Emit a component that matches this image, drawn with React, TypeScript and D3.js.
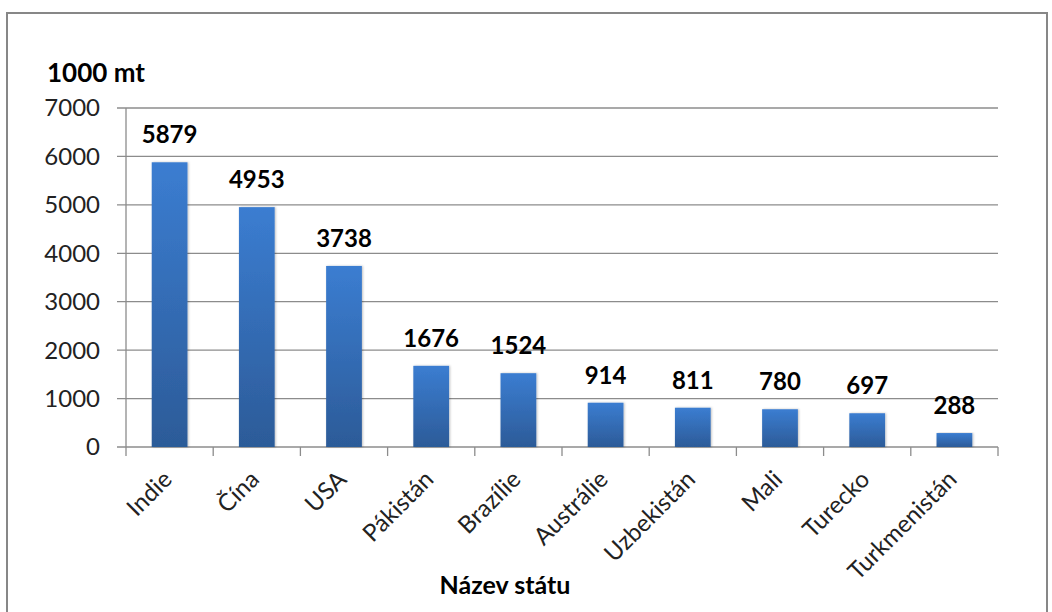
import React from "react";
import * as d3 from "d3";

const countries = ["Indie", "Čína", "USA", "Pákistán", "Brazílie", "Austrálie", "Uzbekistán", "Mali", "Turecko", "Turkmenistán"];
const production = [5879, 4953, 3738, 1676, 1524, 914, 811, 780, 697, 288];
const yTicks = [0, 1000, 2000, 3000, 4000, 5000, 6000, 7000];

const FONT = "Lato, 'Open Sans', sans-serif";

export default function App() {
  const left = 126, right = 998, top = 108, bottom = 447;

  const x = d3.scaleBand<string>()
    .domain(countries)
    .range([left, right])
    .paddingInner(0.59)
    .paddingOuter(0.295);

  const y = d3.scaleLinear()
    .domain([0, 7000])
    .range([bottom, top]);

  const step = (right - left) / countries.length;

  return (
    <svg width={1052} height={612} style={{ position: "absolute", left: 0, top: 0 }} fontFamily={FONT}>
      <defs>
        <linearGradient id="barGrad" x1="0" y1="0" x2="0" y2="1">
          <stop offset="0%" stopColor="#3b7dd1" />
          <stop offset="100%" stopColor="#2c5b98" />
        </linearGradient>
        <filter id="shadow" x="-20%" y="-5%" width="140%" height="110%">
          <feDropShadow dx="1" dy="0" stdDeviation="1.2" floodColor="#000" floodOpacity="0.25" />
        </filter>
      </defs>
      <rect x={7} y={13} width={1040} height={620} fill="#fff" stroke="#878787" strokeWidth={2} />

      <text x={47} y={82} fontSize={26} fontWeight="bold" fill="#000">1000 mt</text>

      {yTicks.map(t => (
        <g key={t}>
          <line x1={left - 9} x2={right} y1={y(t)} y2={y(t)} stroke="#8c8c8c" strokeWidth={1.3} />
          <text x={100} y={y(t)} dy="0.35em" textAnchor="end" fontSize={24} fill="#222">{t}</text>
        </g>
      ))}
      <line x1={left} x2={left} y1={top} y2={bottom} stroke="#8c8c8c" strokeWidth={1.3} />
      {d3.range(countries.length + 1).map(i => (
        <line key={i} x1={left + i * step} x2={left + i * step} y1={bottom} y2={bottom + 9} stroke="#8c8c8c" strokeWidth={1.3} />
      ))}

      {countries.map((c, i) => (
        <g key={c}>
          <rect x={x(c)} y={y(production[i])} width={x.bandwidth()} height={bottom - y(production[i])}
            fill="url(#barGrad)" filter="url(#shadow)" />
          <text x={x(c)! + x.bandwidth() / 2} y={y(production[i]) - 19} textAnchor="middle" fontSize={24} fontWeight="bold" fill="#000">
            {production[i]}
          </text>
          <text transform={`translate(${x(c)! + x.bandwidth() / 2 - 8},${bottom + 22}) rotate(-45)`} textAnchor="end" dy="0.7em" fontSize={24} fill="#222">
            {c}
          </text>
        </g>
      ))}

      <text x={505} y={594} textAnchor="middle" fontSize={25} fontWeight="bold" fill="#000">Název státu</text>
    </svg>
  );
}
